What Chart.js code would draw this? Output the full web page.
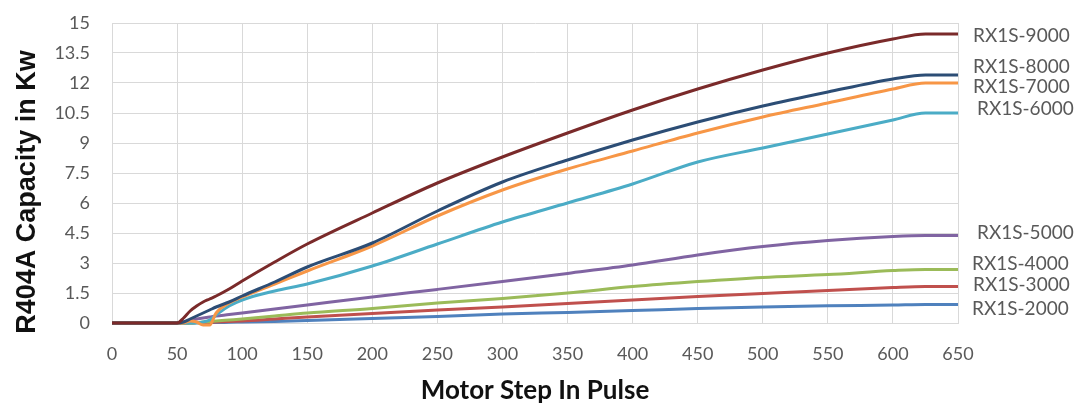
<!DOCTYPE html>
<html>
<head>
<meta charset="utf-8">
<script src="https://cdn.jsdelivr.net/npm/chart.js@4.4.1/dist/chart.umd.min.js"></script>
<style>
  html, body { margin: 0; padding: 0; background: #ffffff; }
  #wrap { width: 1079px; height: 408px; }
</style>
</head>
<body>
<div id="wrap"><canvas id="chart" width="1079" height="408"></canvas></div>
<script>
// Motor step positions (pulses) where capacity was sampled
const motorSteps = [0, 50, 55, 60, 65, 70, 75, 80, 90, 100, 125, 150, 200, 250, 300, 350, 400, 450, 500, 550, 600, 625, 650];

// R404A capacity (kW) per valve model
const rx9000 = [0, 0, 0.25, 0.6, 0.85, 1.05, 1.2, 1.35, 1.7, 2.1, 3.05, 3.95, 5.5, 7.0, 8.3, 9.5, 10.65, 11.7, 12.65, 13.5, 14.2, 14.45, 14.45];
const rx8000 = [0, 0, 0.05, 0.2, 0.35, 0.5, 0.65, 0.8, 1.05, 1.35, 2.05, 2.8, 4.0, 5.6, 7.05, 8.15, 9.15, 10.05, 10.85, 11.55, 12.2, 12.4, 12.4];
const rx7000 = [0, 0, 0, 0.1, 0.05, -0.1, -0.1, 0.5, 1.0, 1.3, 1.95, 2.6, 3.85, 5.35, 6.65, 7.7, 8.6, 9.5, 10.3, 11.0, 11.7, 12.0, 12.0];
const rx6000 = [0, 0, 0, 0, 0, 0.05, 0.15, 0.4, 0.85, 1.15, 1.6, 1.95, 2.85, 3.95, 5.05, 6.0, 6.95, 8.05, 8.75, 9.45, 10.15, 10.5, 10.5];
const rx5000 = [0, 0, 0.05, 0.15, 0.2, 0.25, 0.3, 0.35, 0.42, 0.5, 0.7, 0.9, 1.3, 1.68, 2.07, 2.48, 2.9, 3.4, 3.82, 4.12, 4.32, 4.37, 4.37];
const rx4000 = [0, 0, 0, 0, 0.02, 0.05, 0.08, 0.1, 0.15, 0.2, 0.35, 0.5, 0.73, 1.0, 1.23, 1.5, 1.82, 2.07, 2.28, 2.42, 2.62, 2.68, 2.68];
const rx3000 = [0, 0, 0, 0.01, 0.02, 0.03, 0.04, 0.05, 0.08, 0.1, 0.2, 0.3, 0.48, 0.65, 0.8, 0.97, 1.15, 1.32, 1.47, 1.62, 1.77, 1.82, 1.82];
const rx2000 = [0, 0, 0, 0, 0.01, 0.01, 0.02, 0.02, 0.04, 0.05, 0.08, 0.12, 0.22, 0.33, 0.45, 0.53, 0.62, 0.72, 0.8, 0.86, 0.9, 0.93, 0.93];

const seriesNames = ['RX1S-9000', 'RX1S-8000', 'RX1S-7000', 'RX1S-6000', 'RX1S-5000', 'RX1S-4000', 'RX1S-3000', 'RX1S-2000'];
const seriesValues = [rx9000, rx8000, rx7000, rx6000, rx5000, rx4000, rx3000, rx2000];
const seriesColors = ['#7a2a2a', '#2c4d75', '#f79646', '#4bacc6', '#8064a2', '#9bbb59', '#c0504d', '#4f81bd'];

// Axis tick labels
const xTickValues = [0, 50, 100, 150, 200, 250, 300, 350, 400, 450, 500, 550, 600, 650];
const yTickValues = [0, 1.5, 3, 4.5, 6, 7.5, 9, 10.5, 12, 13.5, 15];

const yTitle = 'R404A Capacity in Kw';
const xTitle = 'Motor Step In Pulse';

const datasets = seriesNames.map((name, i) => ({
  label: name,
  data: motorSteps.map((s, k) => ({ x: s, y: seriesValues[i][k] })),
  borderColor: seriesColors[i],
  backgroundColor: seriesColors[i],
  borderWidth: 3,
  pointRadius: 0,
  cubicInterpolationMode: 'monotone',
  clip: false
}));

// Series names written at the right end of each curve
const labelNudgeY = [2, -8, 4, -4, -3, -6, -2, 4];
const labelIndentX = [0, 0, 0, 4, 4, -1, 0, -1];
const endLabels = {
  id: 'endLabels',
  afterDatasetsDraw(chart) {
    const { ctx, scales: { y }, chartArea } = chart;
    ctx.save();
    ctx.font = '19px Lato';
    ctx.fillStyle = '#595959';
    ctx.textAlign = 'left';
    ctx.textBaseline = 'middle';
    chart.data.datasets.forEach((ds, i) => {
      const last = ds.data[ds.data.length - 1].y;
      const py = y.getPixelForValue(last) + labelNudgeY[i];
      ctx.fillText(ds.label, chartArea.right + 15 + labelIndentX[i], py);
    });
    ctx.restore();
  }
};

// Vertical axis title
const yAxisTitle = {
  id: 'yAxisTitle',
  afterDraw(chart) {
    const { ctx } = chart;
    ctx.save();
    ctx.translate(28, 192);
    ctx.rotate(-Math.PI / 2);
    ctx.font = 'bold 27px "Liberation Sans"';
    ctx.fillStyle = '#111111';
    ctx.textAlign = 'center';
    ctx.textBaseline = 'middle';
    ctx.fillText(yTitle, 0, 0);
    ctx.restore();
  }
};

new Chart(document.getElementById('chart'), {
  type: 'line',
  data: { datasets },
  plugins: [endLabels, yAxisTitle],
  options: {
    responsive: false,
    animation: false,
    devicePixelRatio: 1,
    layout: { padding: { top: 23, right: 121, bottom: 0, left: 0 } },
    plugins: { legend: { display: false }, tooltip: { enabled: false } },
    scales: {
      x: {
        type: 'linear',
        min: 0,
        max: 650,
        afterBuildTicks: (s) => { s.ticks = xTickValues.map(v => ({ value: v })); },
        afterFit: (s) => { s.height = 85; },
        grid: { color: '#d9d9d9', lineWidth: 1, drawTicks: false },
        border: { color: '#d9d9d9' },
        ticks: { font: { family: 'Lato', size: 18 }, color: '#595959', padding: 20, maxRotation: 0 },
        title: {
          display: true,
          text: xTitle,
          font: { family: 'Lato', size: 26, weight: 'bold' },
          color: '#111111',
          padding: { top: 0, bottom: 2 }
        }
      },
      y: {
        min: 0,
        max: 15,
        afterBuildTicks: (s) => { s.ticks = yTickValues.map(v => ({ value: v })); },
        afterFit: (s) => { s.width = 112; s.paddingTop = 0; s.paddingBottom = 0; },
        grid: { color: '#d9d9d9', lineWidth: 1, drawTicks: false },
        border: { color: '#d9d9d9' },
        ticks: { font: { family: 'Lato', size: 18 }, color: '#595959', padding: 22 }
      }
    }
  }
});
</script>
</body>
</html>
